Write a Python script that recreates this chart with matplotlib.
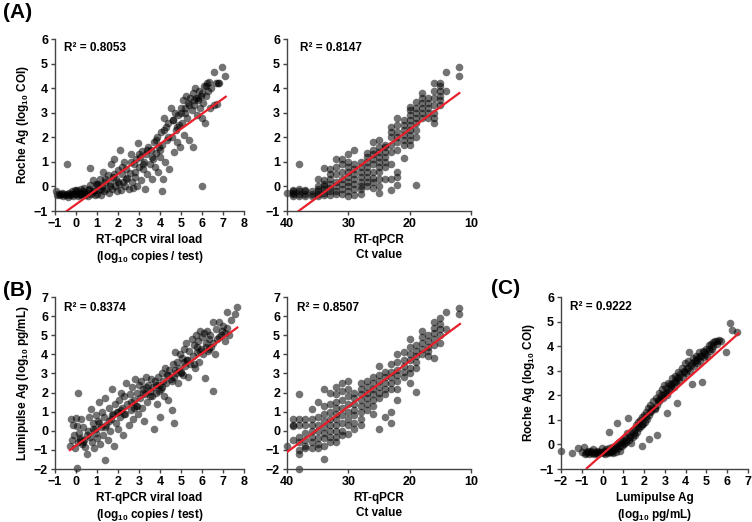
import numpy as np
import matplotlib
matplotlib.use("Agg")
import matplotlib.pyplot as plt

plt.rcParams['font.family'] = 'Liberation Sans'
plt.rcParams['font.weight'] = 'bold'
plt.rcParams['mathtext.fontset'] = 'custom'
plt.rcParams['mathtext.rm'] = 'Liberation Sans:bold'
plt.rcParams['mathtext.default'] = 'rm'

# (A) left: viral load vs Roche Ag
a_load = [-0.95, -0.85, -0.75, -0.65, -0.6, -0.55,
          -0.45, -0.41, -0.4, -0.35, -0.3, -0.2, -0.15, -0.1, -0.05,
          0.0, 0.05, 0.1, 0.15, 0.2, 0.25, 0.3, 0.35, 0.4, 0.45,
          0.5, 0.55, 0.6, 0.65, 0.67, 0.7, 0.8, 0.85, 0.9, 0.95,
          1.0, 1.05, 1.1, 1.15, 1.2, 1.25, 1.3, 1.35, 1.4, 1.45, 1.5,
          1.55, 1.6, 1.65, 1.7, 1.75, 1.8, 1.85, 1.9, 1.95, 2.0,
          2.05, 2.1, 2.15, 2.2, 2.25, 2.3, 2.35, 2.4, 2.45, 2.5,
          2.55, 2.6, 2.65, 2.7, 2.75, 2.8, 2.85, 2.9, 2.94, 3.0,
          3.05, 3.1, 3.15, 3.2, 3.25, 3.3, 3.35, 3.4, 3.45, 3.5,
          3.55, 3.6, 3.65, 3.7, 3.75, 3.8, 3.85, 3.9, 3.95, 4.0,
          4.05, 4.08, 4.1, 4.15, 4.2, 4.25, 4.3, 4.35, 4.4, 4.45, 4.5,
          4.55, 4.6, 4.65, 4.7, 4.75, 4.8, 4.85, 4.9, 4.95, 5.0,
          5.05, 5.1, 5.15, 5.2, 5.25, 5.3, 5.35, 5.4, 5.45, 5.5,
          5.55, 5.59, 5.6, 5.65, 5.7, 5.75, 5.8, 5.85, 5.9, 5.95, 5.98,
          6.0, 6.05, 6.1, 6.15, 6.2, 6.25, 6.3, 6.35, 6.4, 6.45,
          6.55, 6.59, 6.65, 6.7, 6.75, 6.8, 6.97, 7.1,
          -0.9, -0.7, -0.5, -0.25, 0.0, 0.2, 0.4, 0.6, 0.8, 1.0, 1.2, 1.4,
          1.6, 1.8, 2.0, 2.2, 2.4, 2.6, 2.8, 3.0, 3.2, 3.4, 3.6, 3.8,
          4.0, 4.2, 4.4, 4.6, 4.8, 5.0, 5.2, 5.4, 5.6, 5.8, 6.0, 6.2]
a_roche = [-0.2, -0.3, -0.35, -0.25, -0.4, -0.3,
           -0.3, 0.9, -0.45, -0.25, -0.35, -0.2, -0.4, -0.3, -0.15,
           -0.3, -0.15, -0.4, -0.25, -0.35, -0.1, -0.3, -0.2, -0.05, -0.35,
           -0.25, -0.4, -0.1, 0.05, 0.75, -0.3, 0.25, -0.2, -0.35, 0.1,
           -0.3, 0.1, -0.15, 0.3, -0.35, 0.0, 0.6, -0.2, 0.2, -0.1, 0.45,
           -0.25, 0.15, 0.9, -0.1, 0.4, 1.1, 0.0, 0.3, -0.2, 0.65,
           0.1, 1.5, -0.15, 0.5, 0.2, 1.0, 0.0, 0.7, 0.35, -0.1,
           0.55, 1.3, 0.2, -0.05, 0.9, 0.4, 1.1, 0.0, 1.75, 0.8,
           1.2, 0.25, 1.45, 0.7, 1.0, -0.1, 1.3, 0.5, 1.6, 0.9,
           1.5, 0.3, 1.1, 1.8, 0.8, 1.35, 2.0, 0.6, 1.6, 1.2,
           2.2, -0.19, 1.7, 0.3, 2.8, 1.0, 2.4, 1.9, 2.6, 0.7, 3.2,
           2.0, 2.7, 1.4, 3.0, 2.3, 1.8, 2.9, 2.5, 1.6, 3.2,
           2.6, 3.5, 2.1, 3.0, 3.7, 2.8, 3.4, 1.9, 3.6, 3.1,
           3.8, 1.62, 3.3, 4.0, 3.6, 2.9, 3.5, 3.9, 3.2, 3.7, 0.03,
           2.8, 3.4, 4.1, 2.6, 3.7, 4.2, 3.9, 4.25, 3.2, 4.0,
           3.3, 4.64, 4.2, 3.35, 4.2, 4.2, 4.87, 4.51,
           -0.35, -0.3, -0.35, -0.3, -0.2, -0.3, -0.25, -0.15, -0.2, 0.05, -0.1, 0.3,
           0.0, 0.5, 0.2, 0.8, 0.3, 1.0, 0.6, 1.3, 0.9, 1.5, 1.2, 1.9,
           1.5, 2.3, 2.0, 2.7, 2.4, 3.0, 3.2, 3.3, 3.5, 3.6, 3.8, 4.1]

# (A) right: Ct value vs Roche Ag
a_ct = [40,
        39, 39, 39, 39, 39,
        38, 38, 38, 38, 38,
        37, 37, 37, 37,
        36, 36, 36,
        35, 35, 35, 35, 35, 35,
        34, 34, 34, 34, 34, 34, 34,
        33, 33, 33, 33, 33, 33, 33,
        32, 32, 32, 32, 32, 32, 32,
        31, 31, 31, 31, 31, 31, 31,
        30, 30, 30, 30, 30, 30, 30, 30, 30,
        29, 29, 29, 29, 29, 29, 29, 29,
        28, 28, 28, 28, 28, 28, 28, 28,
        27, 27, 27, 27, 27, 27, 27, 27,
        26, 26, 26, 26, 26, 26, 26, 26, 26,
        25, 25, 25, 25, 25, 25, 25, 25, 25, 25,
        24, 24, 24, 24, 24, 24, 24,
        23, 23, 23, 23, 23, 23, 23, 23,
        22, 22, 22, 22, 22, 22, 22, 22, 22,
        21, 21, 21, 21, 21, 21, 21,
        20, 20, 20, 20, 20, 20, 20, 20, 20,
        19, 19, 19, 19, 19, 19, 19, 19,
        18, 18, 18, 18, 18, 18,
        17, 17, 17, 17, 17,
        16, 16, 16, 16, 16, 16, 16,
        15, 15, 15, 15, 15, 15,
        14, 14,
        12, 12]
a_roche_ct = [-0.25,
              -0.4, -0.3, -0.25, -0.2, -0.15,
              -0.4, -0.3, -0.2, -0.1, 0.9,
              -0.4, -0.3, -0.2, -0.15,
              -0.4, -0.3, -0.2,
              -0.4, -0.3, -0.2, -0.1, 0.0, 0.3,
              -0.35, -0.25, -0.1, 0.0, 0.1, 0.25, 0.75,
              -0.35, -0.2, -0.05, 0.1, 0.3, 0.5, 0.7,
              -0.3, -0.2, 0.0, 0.2, 0.5, 0.8, 1.1,
              -0.3, -0.1, 0.1, 0.3, 0.6, 0.9, 1.1,
              -0.4, -0.2, 0.0, 0.2, 0.4, 0.6, 0.8, 1.0, 1.3,
              -0.35, -0.1, 0.1, 0.3, 0.5, 0.7, 0.9, 1.5,
              -0.3, -0.1, 0.0, 0.2, 0.4, 0.6, 0.8, 1.0,
              0.0, 0.2, 0.4, 0.6, 0.8, 1.0, 1.2, 1.35,
              -0.05, 0.2, 0.35, 0.6, 0.9, 1.1, 1.3, 1.5, 1.8,
              -0.25, 0.0, 0.3, 0.6, 0.8, 1.0, 1.2, 1.4, 1.6, 1.9,
              0.3, 0.8, 1.0, 1.2, 1.4, 1.6, 1.7,
              -0.15, 0.3, 0.9, 1.4, 1.7, 2.0, 2.2, 2.4,
              0.05, 0.4, 0.6, 1.5, 1.8, 2.0, 2.2, 2.5, 2.8,
              1.15, 1.7, 1.9, 2.1, 2.3, 2.5, 2.7,
              1.7, 1.9, 2.1, 2.3, 2.5, 2.7, 2.9, 3.1, 3.25,
              0.05, 2.0, 2.3, 2.6, 2.8, 3.0, 3.2, 3.45,
              2.8, 3.0, 3.2, 3.4, 3.6, 3.8,
              2.8, 3.0, 3.2, 3.4, 3.6,
              2.6, 2.8, 3.0, 3.3, 3.6, 3.9, 4.2,
              3.3, 3.5, 3.7, 3.9, 4.1, 4.2,
              3.9, 4.65,
              4.5, 4.85]

# (B) left: viral load vs Lumipulse Ag
b_load = [-0.3, -0.25, -0.2, -0.15, -0.1, -0.05, 0.0, 0.03, 0.05, 0.1,
          0.11, 0.15, 0.2, 0.25, 0.3, 0.35, 0.4, 0.45, 0.5,
          0.55, 0.6, 0.65, 0.7, 0.75, 0.8, 0.85, 0.9, 0.95, 1.0,
          1.05, 1.1, 1.15, 1.2, 1.25, 1.3, 1.35, 1.38, 1.4, 1.45, 1.5,
          1.55, 1.6, 1.65, 1.7, 1.75, 1.8, 1.85, 1.9, 1.95, 2.0,
          2.05, 2.1, 2.15, 2.2, 2.25, 2.3, 2.35, 2.4, 2.45, 2.5,
          2.55, 2.6, 2.65, 2.7, 2.75, 2.8, 2.85, 2.9, 2.95, 3.0,
          3.05, 3.1, 3.15, 3.2, 3.25, 3.3, 3.35, 3.4, 3.45, 3.5,
          3.55, 3.6, 3.65, 3.7, 3.75, 3.8, 3.85, 3.9, 3.95, 4.0,
          4.05, 4.1, 4.15, 4.2, 4.25, 4.3, 4.35, 4.4, 4.45, 4.5,
          4.56, 4.6, 4.65, 4.68, 4.7, 4.75, 4.8, 4.85, 4.9, 4.95, 5.0,
          5.05, 5.1, 5.15, 5.2, 5.25, 5.3, 5.35, 5.4, 5.45, 5.5,
          5.55, 5.6, 5.65, 5.7, 5.75, 5.8, 5.85, 5.9, 5.95, 6.0,
          6.05, 6.1, 6.14, 6.2, 6.25, 6.3, 6.35, 6.4, 6.45, 6.5,
          6.54, 6.6, 6.65, 6.7, 6.8, 6.9, 7.0, 7.1, 7.17, 7.2, 7.3, 7.4, 7.57, 7.65,
          0.2, 0.5, 0.8, 1.1, 1.4, 1.7, 2.0, 2.3, 2.6, 2.9, 3.2, 3.5,
          3.8, 4.1, 4.4, 4.7, 5.0, 5.3, 5.6, 5.9, 6.2, 6.5, 6.8, 7.1,
          0.35, 0.95, 1.55, 2.15, 2.75, 3.35, 3.95, 4.55, 5.15, 5.75, 6.35, 6.95]
b_lumi = [-0.8, 0.6, -0.5, 0.3, -0.2, -0.9, 0.65, -1.97, 0.25, -0.6,
          1.96, -0.1, -0.4, 0.6, -0.7, 0.2, -0.5, -0.85, -1.2,
          0.0, 0.7, -0.3, 1.15, -0.6, 0.4, -0.9, 0.1, 0.8, -0.4,
          0.5, 1.5, -0.7, 0.2, 1.0, -0.2, 0.7, -1.53, 1.7, 0.3, -0.5,
          1.2, 0.0, 0.6, 2.2, 0.9, -0.8, 1.4, 0.4, 1.0, 0.1,
          1.6, 0.7, 2.0, 1.2, -0.2, 1.8, 0.9, 2.5, 1.4, 0.3,
          1.9, 1.1, 2.3, 0.6, 1.6, 2.7, 1.3, 2.0, 0.9, 2.4,
          1.7, 2.6, 1.2, 2.2, 0.5, 1.9, 2.8, 1.5, 2.4, 2.1,
          2.7, 1.8, 2.3, 0.1, 2.6, 2.0, 1.4, 2.8, 2.4, 0.7,
          2.2, 3.0, 2.6, 1.8, 3.3, 2.5, 2.9, 1.6, 3.2, 2.7,
          1.09, 3.5, 2.8, 0.42, 4.1, 3.0, 3.6, 2.5, 3.3, 4.0, 3.1,
          3.8, 2.9, 4.3, 3.4, 4.6, 3.7, 2.8, 4.2, 3.5, 4.8,
          3.9, 4.5, 3.3, 5.0, 4.1, 4.7, 3.6, 5.2, 4.3, 4.9,
          4.0, 5.1, 2.74, 4.6, 5.2, 4.2, 4.8, 5.0, 4.4, 5.7,
          2.1, 4.0, 5.3, 4.8, 5.7, 5.0, 5.5, 4.7, 6.23, 5.4, 5.0, 5.8, 6.11, 6.49,
          -0.5, -0.2, 0.1, 0.4, 0.2, 0.8, 1.0, 0.9, 1.5, 1.3, 2.0, 1.8,
          2.4, 2.3, 2.9, 3.2, 3.0, 3.7, 3.5, 4.2, 4.4, 4.6, 4.9, 5.1,
          -0.6, -0.1, 0.5, 1.1, 1.2, 2.3, 2.1, 2.6, 3.6, 4.4, 4.3, 5.2]

# (B) right: Ct value vs Lumipulse Ag
b_ct = [40,
        39, 39, 39, 39,
        38, 38, 38, 38, 38, 38, 38, 38,
        37, 37, 37, 37, 37, 37,
        36, 36, 36, 36, 36, 36, 36,
        35, 35, 35, 35, 35, 35, 35,
        34, 34, 34, 34, 34, 34, 34, 34, 34,
        33, 33, 33, 33, 33, 33, 33, 33,
        32, 32, 32, 32, 32, 32, 32, 32, 32, 32,
        31, 31, 31, 31, 31, 31, 31, 31,
        30, 30, 30, 30, 30, 30, 30, 30,
        29, 29, 29, 29, 29, 29, 29,
        28, 28, 28, 28, 28, 28, 28, 28,
        27, 27, 27, 27, 27, 27,
        26, 26, 26, 26, 26, 26, 26,
        25, 25, 25, 25, 25, 25, 25,
        24, 24, 24, 24, 24, 24,
        23, 23, 23, 23, 23, 23, 23,
        22, 22, 22, 22, 22, 22, 22,
        21, 21, 21, 21, 21,
        20, 20, 20, 20, 20, 20, 20,
        19, 19, 19, 19, 19, 19,
        18, 18, 18, 18, 18,
        17, 17, 17, 17, 17,
        16, 16, 16, 16, 16, 16,
        15, 15, 15, 15, 15,
        14, 14,
        12, 12]
b_lumi_ct = [-0.8,
             -0.5, 0.25, 0.3, 0.6,
             1.9, 0.6, 0.3, -0.3, -0.6, -1.0, -1.2, -2.0,
             0.6, 0.3, -0.1, -0.5, -0.8, -0.9,
             1.15, 0.6, 0.3, 0.0, -0.3, -0.6, -0.9,
             1.5, 0.7, 0.3, 0.0, -0.4, -0.7, -0.9,
             2.2, 1.3, 0.9, 0.5, 0.2, -0.1, -0.4, -0.8, -1.5,
             2.0, 1.4, 1.0, 0.6, 0.3, 0.0, -0.3, -0.6,
             2.3, 1.9, 1.5, 1.2, 0.9, 0.6, 0.3, 0.0, -0.3, -0.6,
             2.5, 2.1, 1.6, 1.2, 0.8, 0.4, 0.0, -0.2,
             2.6, 2.2, 1.8, 1.4, 1.0, 0.6, 0.3, -0.15,
             2.0, 1.7, 1.4, 1.1, 0.8, 0.4, 0.1,
             2.5, 2.2, 1.9, 1.6, 1.3, 1.0, 0.6, 0.3,
             2.6, 2.3, 2.0, 1.7, 1.4, 1.1,
             2.8, 2.5, 2.2, 1.9, 1.6, 1.3, 0.9,
             3.4, 2.9, 2.6, 2.3, 2.0, 1.7, 0.1,
             3.1, 2.8, 2.5, 2.2, 1.9, 0.7,
             3.5, 3.1, 2.8, 2.5, 2.2, 1.0, 0.4,
             4.0, 3.6, 3.2, 2.9, 2.6, 2.2, 1.6,
             4.1, 3.7, 3.4, 3.1, 2.8,
             4.8, 4.4, 4.0, 3.7, 3.3, 3.0, 2.5,
             4.5, 4.2, 3.9, 3.6, 3.3, 2.05,
             5.2, 4.9, 4.6, 4.3, 4.0,
             5.0, 4.7, 4.4, 4.2, 3.9,
             5.7, 5.4, 5.1, 4.8, 4.5, 3.8,
             5.9, 5.6, 5.3, 5.0, 4.6,
             6.2, 5.3,
             6.45, 6.1]

# (C): Lumipulse Ag vs Roche Ag
c_lumi = [-2.0, -1.49, -1.2, -1.0, -0.9, -0.85, -0.8, -0.7, -0.65, -0.6,
          -0.5, -0.45, -0.4, -0.3, -0.25, -0.2, -0.1, -0.05, 0.0, 0.05,
          0.1, 0.15, 0.2, 0.25, 0.3, 0.31, 0.35, 0.4, 0.45, 0.5,
          0.55, 0.6, 0.65, 0.7, 0.71, 0.75, 0.8, 0.85, 0.9, 0.95,
          1.0, 1.05, 1.1, 1.15, 1.2, 1.24, 1.25, 1.3, 1.35, 1.4,
          1.45, 1.5, 1.55, 1.6, 1.65, 1.7, 1.75, 1.8, 1.85, 1.9,
          1.91, 1.95, 2.0, 2.05, 2.1, 2.15, 2.2, 2.23, 2.25, 2.3,
          2.35, 2.4, 2.45, 2.5, 2.55, 2.6, 2.63, 2.65, 2.7, 2.75,
          2.8, 2.85, 2.9, 2.95, 3.0, 3.05, 3.1, 3.1, 3.15, 3.2,
          3.25, 3.3, 3.35, 3.4, 3.45, 3.5, 3.55, 3.6, 3.6, 3.65,
          3.7, 3.75, 3.8, 3.85, 3.9, 3.95, 4.0, 4.05, 4.1, 4.16,
          4.2, 4.25, 4.3, 4.35, 4.4, 4.45, 4.5, 4.55, 4.6, 4.65,
          4.7, 4.75, 4.8, 4.85, 4.9, 4.95, 5.0, 5.05, 5.1, 5.15,
          5.2, 5.25, 5.3, 5.4, 5.5, 5.6, 5.7, 5.93, 6.13, 6.25, 6.45,
          1.3, 1.5, 1.7, 1.9, 2.1, 2.3, 2.5, 2.7, 2.9, 3.1, 3.3,
          3.5, 3.7, 3.9, 4.1, 4.3, 4.5, 4.7, 4.9, 5.1, 5.3, 5.5,
          -0.75, -0.55, -0.35, -0.15, 0.05, 0.25, 0.45, 0.65, 0.85, 1.05, 1.15]
c_roche = [-0.26, -0.34, -0.15, -0.3, -0.1, -0.4, -0.35, -0.25, -0.4, -0.3,
           -0.35, -0.2, -0.4, -0.3, -0.25, -0.4, -0.3, -0.15, -0.35, -0.25,
           -0.4, -0.2, -0.3, -0.35, -0.15, 0.49, -0.3, -0.25, -0.1, -0.35,
           -0.2, -0.05, -0.3, 0.0, 0.86, -0.15, 0.1, -0.25, 0.15, -0.05,
           0.2, 0.0, 0.3, 0.1, 0.45, 1.06, 0.2, 0.35, 0.05, 0.55,
           0.3, 0.6, 0.4, 0.8, 0.5, 0.9, 0.65, 1.0, 0.75, 1.1,
           -0.05, 0.85, 1.2, 0.9, 1.3, 1.05, 1.5, 0.24, 1.2, 1.6,
           1.35, 1.5, 1.75, 1.45, 1.9, 1.6, 0.38, 1.8, 2.1, 1.85,
           2.0, 2.25, 1.9, 2.4, 2.1, 2.3, 1.27, 2.0, 2.5, 2.2,
           2.45, 2.3, 2.7, 2.5, 2.35, 2.8, 2.55, 1.67, 2.7, 2.95,
           2.6, 2.85, 3.1, 2.75, 3.0, 3.3, 2.9, 3.1, 3.4, 3.78,
           3.0, 3.25, 2.45, 3.5, 3.2, 3.4, 3.6, 3.3, 3.5, 3.75,
           3.4, 3.6, 2.56, 3.8, 3.55, 3.7, 3.9, 3.6, 4.05, 3.8,
           4.1, 3.9, 4.15, 4.2, 4.2, 4.25, 4.2, 3.78, 4.93, 4.66, 4.59,
           0.3, 0.45, 0.7, 0.85, 1.1, 1.3, 1.5, 1.75, 2.0, 2.15, 2.4,
           2.6, 2.75, 2.95, 3.1, 3.3, 3.45, 3.6, 3.75, 3.9, 4.0, 4.1,
           -0.3, -0.25, -0.35, -0.3, -0.3, -0.25, -0.3, -0.15, -0.05, 0.05, 0.2]

# regression line end points
a_fit_load = [-0.44, 7.13]
a_fit_roche = [-1.0, 3.65]
a_fit_ct = [38.1, 11.9]
a_fit_roche_ct = [-1.0, 3.8]
b_fit_load = [-0.29, 7.68]
b_fit_lumi = [-1.01, 5.4]
b_fit_ct = [39.9, 11.8]
b_fit_lumi_ct = [-1.09, 5.59]
c_fit_lumi = [-0.76, 6.55]
c_fit_roche = [-0.97, 4.52]

r2_texts = ["R\u00b2 = 0.8053", "R\u00b2 = 0.8147", "R\u00b2 = 0.8374",
            "R\u00b2 = 0.8507", "R\u00b2 = 0.9222"]

W, H = 752, 522
fig = plt.figure(figsize=(W / 100, H / 100), dpi=100)


def px_axes(x0, y0, x1, y1):
    return fig.add_axes([x0 / W, 1 - y1 / H, (x1 - x0) / W, (y1 - y0) / H])


def style(ax, xlim, ylim, xticks, yticks):
    ax.set_xlim(*xlim)
    ax.set_ylim(*ylim)
    ax.set_xticks(xticks)
    ax.set_yticks(yticks)
    for s in ['top', 'right']:
        ax.spines[s].set_visible(False)
    for s in ['left', 'bottom']:
        ax.spines[s].set_color('#444444')
        ax.spines[s].set_linewidth(1.0)
    ax.tick_params(direction='out', length=3, width=1, color='#444444',
                   labelsize=9, pad=2)
    for lab in ax.get_xticklabels() + ax.get_yticklabels():
        lab.set_fontweight('bold')


def panel(ax, x, y, fx, fy, r2, tx, ty):
    ax.scatter(x, y, s=30, color='black', alpha=0.55, linewidths=0,
               clip_on=False, zorder=2)
    ax.plot(fx, fy, color='#e8202a', lw=1.6, zorder=3)
    ax.text(tx, ty, r2, transform=ax.transAxes, fontsize=8.5,
            fontweight='bold', va='center', ha='left')


lbl_kw = dict(fontsize=8.5, fontweight='bold', linespacing=1.3)

ax1 = px_axes(55, 39, 244, 211)
panel(ax1, a_load, a_roche, a_fit_load, a_fit_roche, r2_texts[0], 0.045, 0.945)
style(ax1, (-1, 8), (-1, 6), range(-1, 9), range(-1, 7))
ax1.set_xlabel("RT-qPCR viral load\n(log$_{10}$ copies / test)", labelpad=3, **lbl_kw)
ax1.set_ylabel("Roche Ag (log$_{10}$ COI)", labelpad=2, **lbl_kw)

ax2 = px_axes(287, 39, 471, 211)
panel(ax2, a_ct, a_roche_ct, a_fit_ct, a_fit_roche_ct, r2_texts[1], 0.07, 0.945)
style(ax2, (40, 10), (-1, 6), [40, 30, 20, 10], range(-1, 7))
ax2.set_xlabel("RT-qPCR\nCt value", labelpad=3, **lbl_kw)

ax3 = px_axes(55, 297, 244, 469)
panel(ax3, b_load, b_lumi, b_fit_load, b_fit_lumi, r2_texts[2], 0.045, 0.935)
style(ax3, (-1, 8), (-2, 7), range(-1, 9), range(-2, 8))
ax3.set_xlabel("RT-qPCR viral load\n(log$_{10}$ copies / test)", labelpad=3, **lbl_kw)
ax3.set_ylabel("Lumipulse Ag (log$_{10}$ pg/mL)", labelpad=2, **lbl_kw)

ax4 = px_axes(287, 297, 471, 469)
panel(ax4, b_ct, b_lumi_ct, b_fit_ct, b_fit_lumi_ct, r2_texts[3], 0.055, 0.935)
style(ax4, (40, 10), (-2, 7), [40, 30, 20, 10], range(-2, 8))
ax4.set_xlabel("RT-qPCR\nCt value", labelpad=3, **lbl_kw)

ax5 = px_axes(561, 297, 748, 469)
panel(ax5, c_lumi, c_roche, c_fit_lumi, c_fit_roche, r2_texts[4], 0.05, 0.94)
style(ax5, (-2, 7), (-1, 6), range(-2, 8), range(-1, 7))
ax5.set_xlabel("Lumipulse Ag\n(log$_{10}$ pg/mL)", labelpad=3, **lbl_kw)
ax5.set_ylabel("Roche Ag (log$_{10}$ COI)", labelpad=2, **lbl_kw)

for txt, x, y in [("(A)", 18, 12), ("(B)", 18, 291), ("(C)", 506, 289)]:
    fig.text(x / W, 1 - y / H, txt, fontsize=15, fontweight='bold',
             ha='center', va='center')

fig.savefig("out.png", dpi=100)
